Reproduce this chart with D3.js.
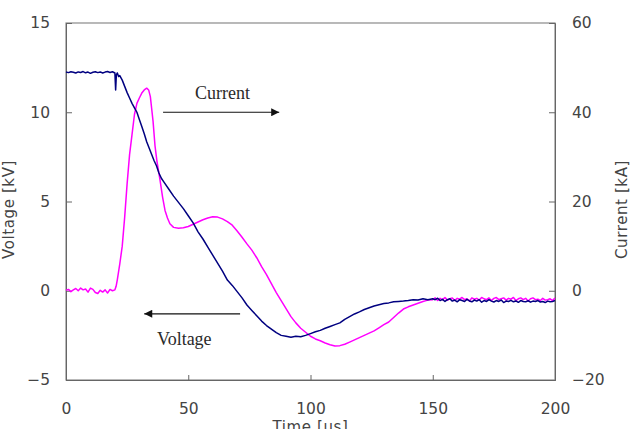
<!DOCTYPE html>
<html lang="en">
<head>
    <title>Voltage and Current</title>
    <meta charset="utf-8">
    <script src="https://d3js.org/d3.v7.min.js"></script>
    <style>
        * {
            margin: 0;
            padding: 0;
        }
        body {
            background-color: white;
            width: 635px;
            height: 429px;
            overflow: hidden;
        }
        .tick text {
            font-family: 'DejaVu Sans', sans-serif;
            font-size: 15.5px;
            fill: #444;
        }
        .title {
            font-family: 'DejaVu Sans', sans-serif;
            font-size: 15px;
            letter-spacing: 0.6px;
            fill: #444;
        }
        .note {
            font-family: 'Liberation Serif', serif;
            font-size: 18px;
            fill: #2a2a2a;
        }
    </style>
</head>
<body>
<div id="container"></div>
<script>
    // voltage trace, kV (left axis)
    const voltTime = [
        0, 1, 2, 3, 4, 5, 6, 7, 8, 9, 10, 11, 12, 13, 14, 15, 16, 17, 18, 19, 20,
        20.3, 20.6, 21, 21.5, 22, 23, 24, 25, 26, 27, 28, 29, 30, 31, 32, 33, 34, 35, 36, 37, 38, 39, 40,
        42, 44, 46, 48, 50, 52, 54, 56, 58, 60, 62, 64, 66, 68, 70, 72, 74, 76, 78, 80,
        82, 84, 86, 88, 90, 92, 94, 96, 98, 100, 102, 104, 106, 108, 110, 112, 114, 116, 118, 120,
        122, 124, 126, 128, 130, 132, 134, 136, 138, 140, 142, 144, 146, 148,
        150, 151, 152, 153, 154, 155, 156, 157, 158, 159, 160, 161, 162, 163, 164, 165, 166, 167, 168, 169,
        170, 171, 172, 173, 174, 175, 176, 177, 178, 179, 180, 181, 182, 183, 184, 185, 186, 187, 188, 189,
        190, 191, 192, 193, 194, 195, 196, 197, 198, 199, 200
    ];
    const voltValues = [
        12.25, 12.22, 12.27, 12.24, 12.2, 12.26, 12.23, 12.28, 12.21, 12.25, 12.18, 12.24, 12.27, 12.22, 12.26, 12.2, 12.25, 12.28, 12.23, 12.27, 12.2,
        11.25, 12.1, 12.2, 12.0, 12.05, 11.8, 11.45, 11.1, 10.8, 10.5, 10.25, 10.0, 9.6, 9.2, 8.8, 8.35, 8.0, 7.65, 7.3, 7.0, 6.6, 6.3, 6.1,
        5.7, 5.3, 4.95, 4.6, 4.2, 3.8, 3.3, 2.9, 2.45, 2.0, 1.55, 1.1, 0.6, 0.3, -0.05, -0.4, -0.8, -1.1, -1.4, -1.7,
        -1.95, -2.15, -2.35, -2.5, -2.55, -2.6, -2.55, -2.58, -2.5, -2.4, -2.3, -2.22, -2.1, -2.0, -1.9, -1.8, -1.6, -1.45, -1.3, -1.18,
        -1.05, -0.95, -0.85, -0.78, -0.72, -0.68, -0.62, -0.6, -0.58, -0.55, -0.5, -0.52, -0.45, -0.5,
        -0.45, -0.5, -0.42, -0.55, -0.48, -0.6, -0.5, -0.45, -0.58, -0.52, -0.62, -0.5, -0.55, -0.6, -0.48, -0.57, -0.62, -0.52, -0.58, -0.5,
        -0.64, -0.55, -0.6, -0.5, -0.58, -0.63, -0.55, -0.6, -0.52, -0.66, -0.58, -0.6, -0.54, -0.62, -0.57, -0.65, -0.55, -0.6, -0.62, -0.56,
        -0.64, -0.58, -0.6, -0.55, -0.63, -0.6, -0.66, -0.58, -0.62, -0.6, -0.55
    ];

    // current trace, kA (right axis)
    const currTime = [
        0, 1, 2, 3, 4, 5, 6, 7, 8, 9, 10, 11, 12, 13, 14, 15, 16, 17, 18, 19, 20,
        20.5, 21, 22, 23, 24, 25, 26, 27, 28, 29, 30, 31, 32, 33, 33.8, 34.5, 35, 35.6, 36.4, 37.2, 38.4, 39.5, 40.5, 41.5, 42.5,
        44, 46, 48, 50, 52, 54, 56, 58, 60, 62, 64, 66, 68, 70, 72, 74, 76, 78, 80,
        82, 84, 86, 88, 90, 92, 94, 96, 98, 100, 102, 104, 106, 108, 110, 112, 114, 116, 118, 120,
        122, 124, 126, 128, 130, 132, 134, 136, 138, 140, 142, 144, 146, 148,
        150, 151, 152, 153, 154, 155, 156, 157, 158, 159, 160, 161, 162, 163, 164, 165, 166, 167, 168, 169,
        170, 171, 172, 173, 174, 175, 176, 177, 178, 179, 180, 181, 182, 183, 184, 185, 186, 187, 188, 189,
        190, 191, 192, 193, 194, 195, 196, 197, 198, 199, 200
    ];
    const currValues = [
        0.1, 0.3, -0.2, 0.2, 0.5, 0.0, 0.6, 0.2, 0.4, -0.3, 0.6, 0.3, -0.4, -0.6, 0.1, -0.3, 0.2, -0.5, 0.3, 0.0, 0.2,
        1.0, 2.5, 6.0, 10.0, 16.5, 24.0, 30.5, 35.0, 39.5, 42.0, 43.2, 44.3, 45.0, 45.4, 45.0, 43.5, 41.0, 38.0, 32.5, 29.0, 25.0, 21.0, 18.0, 16.3, 15.0,
        14.2, 14.0, 14.1, 14.4, 14.9, 15.4, 15.9, 16.3, 16.6, 16.5, 16.1, 15.5, 14.7, 13.4, 12.0, 10.5, 9.1, 7.4, 5.4,
        3.6, 1.6, -0.4, -2.2, -4.0, -5.8, -7.2, -8.4, -9.3, -10.2, -10.8, -11.2, -11.7, -12.1, -12.4, -12.3, -12.0, -11.5, -11.0, -10.5,
        -10.0, -9.5, -9.0, -8.3, -7.6, -7.0, -6.0, -5.0, -4.1, -3.6, -3.2, -2.8, -2.4, -2.1,
        -2.0, -1.6, -2.2, -1.7, -2.0, -1.5, -2.1, -1.8, -1.6, -2.2, -1.7, -1.9, -1.5, -2.0, -1.8, -2.3, -1.6, -1.9, -1.7, -2.1,
        -1.5, -1.8, -2.0, -1.6, -2.2, -1.7, -1.5, -2.0, -1.8, -1.6, -2.1, -1.7, -1.9, -1.5, -2.2, -1.8, -1.6, -2.0, -1.7, -2.3,
        -1.8, -1.6, -2.0, -1.9, -2.2, -1.7, -2.1, -2.0, -1.8, -2.2, -1.6
    ];

    const xTicks = [0, 50, 100, 150, 200];
    const voltTicks = [-5, 0, 5, 10, 15];
    const currTicks = [-20, 0, 20, 40, 60];

    const w = 635;
    const h = 429;
    const plotLeft = 66, plotRight = 555, plotTop = 23, plotBottom = 380;

    const svg = d3.select("#container")
        .append("svg")
        .attr("width", w)
        .attr("height", h);

    const xScale = d3.scaleLinear().domain([0, 200]).range([plotLeft, plotRight]);
    const yVolt = d3.scaleLinear().domain([-5, 15]).range([plotBottom, plotTop]);
    const yCurr = d3.scaleLinear().domain([-20, 60]).range([plotBottom, plotTop]);

    // frame
    svg.append("rect")
        .attr("x", plotLeft)
        .attr("y", plotTop)
        .attr("width", plotRight - plotLeft)
        .attr("height", plotBottom - plotTop)
        .attr("fill", "none")
        .attr("stroke", "#8a8a8a")
        .attr("stroke-width", 1.2);

    const xAxis = d3.axisBottom(xScale).tickValues(xTicks).tickSize(-5).tickPadding(23);
    svg.append("g")
        .attr("transform", `translate(0, ${plotBottom})`)
        .attr("color", "#666")
        .call(xAxis);

    const minus = d => d < 0 ? "\u2212" + Math.abs(d) : d;

    const yAxisLeft = d3.axisLeft(yVolt).tickValues(voltTicks).tickSize(-6).tickPadding(16).tickFormat(minus);
    svg.append("g")
        .attr("transform", `translate(${plotLeft}, 0)`)
        .attr("color", "#666")
        .call(yAxisLeft);

    const yAxisRight = d3.axisRight(yCurr).tickValues(currTicks).tickSize(-6).tickPadding(17).tickFormat(minus);
    svg.append("g")
        .attr("transform", `translate(${plotRight}, 0)`)
        .attr("color", "#666")
        .call(yAxisRight);

    svg.selectAll(".tick text").attr("fill", "#444");

    // axis titles
    svg.append("text")
        .attr("class", "title")
        .attr("transform", `translate(14, ${(plotTop + plotBottom) / 2 + 8}) rotate(-90)`)
        .attr("text-anchor", "middle")
        .text("Voltage [kV]");

    svg.append("text")
        .attr("class", "title")
        .attr("transform", `translate(627, ${(plotTop + plotBottom) / 2 + 8}) rotate(-90)`)
        .attr("text-anchor", "middle")
        .text("Current [kA]");

    svg.append("text")
        .attr("class", "title")
        .attr("x", (plotLeft + plotRight) / 2)
        .attr("y", plotBottom + 52)
        .attr("text-anchor", "middle")
        .text("Time [us]");

    // traces
    const voltLine = d3.line()
        .x((d, i) => xScale(voltTime[i]))
        .y(d => yVolt(d));
    const currLine = d3.line()
        .x((d, i) => xScale(currTime[i]))
        .y(d => yCurr(d));

    svg.append("path")
        .datum(currValues)
        .attr("d", currLine)
        .attr("fill", "none")
        .attr("stroke", "#ff00ff")
        .attr("stroke-width", 1.5)
        .attr("stroke-linejoin", "round");

    svg.append("path")
        .datum(voltValues)
        .attr("d", voltLine)
        .attr("fill", "none")
        .attr("stroke", "#000080")
        .attr("stroke-width", 1.5)
        .attr("stroke-linejoin", "round");

    // annotation arrows
    svg.append("defs").append("marker")
        .attr("id", "head")
        .attr("viewBox", "0 0 10 10")
        .attr("refX", 10)
        .attr("refY", 5)
        .attr("markerWidth", 10)
        .attr("markerHeight", 8)
        .attr("markerUnits", "userSpaceOnUse")
        .attr("orient", "auto")
        .append("path")
        .attr("d", "M0,0 L10,5 L0,10 Z")
        .attr("fill", "#111");

    const notes = [
        { label: "Current", from: 39.7, to: 87.2, at: 10.0, tx: 52.8, ty: 10.75 },
        { label: "Voltage", from: 71.2, to: 32.0, at: -1.29, tx: 37.2, ty: -3.05 }
    ];

    notes.forEach(n => {
        svg.append("line")
            .attr("x1", xScale(n.from))
            .attr("x2", xScale(n.to))
            .attr("y1", yVolt(n.at))
            .attr("y2", yVolt(n.at))
            .attr("stroke", "#111")
            .attr("stroke-width", 1.2)
            .attr("marker-end", "url(#head)");
        svg.append("text")
            .attr("class", "note")
            .attr("x", xScale(n.tx))
            .attr("y", yVolt(n.ty))
            .text(n.label);
    });
</script>
</body>
</html>
